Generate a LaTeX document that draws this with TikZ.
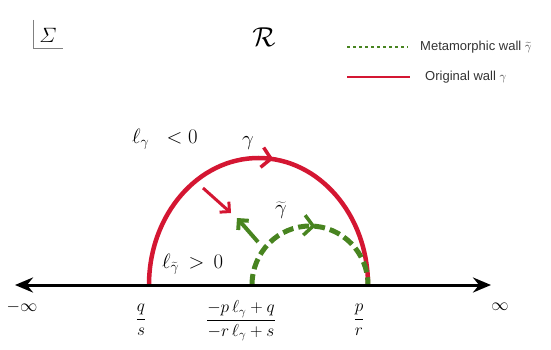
\documentclass[tikz,border=0pt]{standalone}
\usepackage{fontspec}
\newfontfamily\legendfont{Liberation Sans}
\usetikzlibrary{arrows.meta,decorations.markings}
\definecolor{wallred}{RGB}{212,22,50}
\definecolor{wallgreen}{RGB}{72,132,32}
\begin{document}
\begin{tikzpicture}[x=1pt,y=-1pt,
  redwall/.style={draw=wallred, line width=4.5pt},
  greenwall/.style={draw=wallgreen, line width=5pt, dash pattern=on 11pt off 5pt},
  axisline/.style={line width=3pt, {Stealth[length=18pt,width=15pt,inset=6pt]}-{Stealth[length=18pt,width=15pt,inset=6pt]}},
  lbl/.style={font=\LARGE, inner sep=0pt},
  biglbl/.style={font=\huge, inner sep=0pt},
  legendtxt/.style={text=black!80, inner sep=0pt, anchor=west}
]
\useasboundingbox (0,0) rectangle (551,350);

% Sigma corner and title
\coordinate (sigtop) at (33,20);
\coordinate (sigright) at (63,48);
\draw[gray, line width=0.8pt] (sigtop) |- (sigright);
\node[font=\huge, inner sep=0pt] (sig) at (48,35) {$\mathnormal{\Sigma}$};
\node[inner sep=0pt, scale=1.1] (title) at (264,37) {\Huge$\mathcal{R}$};

% legend
\coordinate (lg1) at (347,47);
\coordinate (lg2) at (408,47);
\draw[wallgreen, line width=2.2pt, dash pattern=on 2.5pt off 3.5pt] (lg1) -- (lg2);
\node[legendtxt] (lgt) at (420,47) {\legendfont\fontsize{13}{16}\selectfont Metamorphic wall $\widetilde{\gamma}$};
\coordinate (lr1) at (347,77);
\coordinate (lr2) at (410,77);
\draw[wallred, line width=2.5pt] (lr1) -- (lr2);
\node[legendtxt] (lrt) at (425,77) {\legendfont\fontsize{13}{16}\selectfont Original wall $\gamma$};

% walls
\coordinate (qs) at (149,285);
\coordinate (mid) at (252,285);
\coordinate (pr) at (368,285);
\draw[redwall, postaction={decorate}, decoration={markings,
   mark=at position 0.54 with {\arrow[wallred]{Straight Barb[length=9pt,width=20pt,line width=3.5pt]}}}]
  (qs) arc[start angle=180, end angle=360, x radius=109.5, y radius=127];
\draw[greenwall, postaction={decorate}, decoration={markings,
   mark=at position 0.53 with {\arrow[wallgreen,solid]{Straight Barb[length=9pt,width=20pt,line width=3.5pt]}}}]
  (mid) arc[start angle=180, end angle=360, x radius=58, y radius=59];

% short arrows
\coordinate (ra1) at (203,188);
\coordinate (ra2) at (231,213);
\draw[wallred, line width=3pt, -{Straight Barb[length=7pt,width=14pt]}] (ra1) -- (ra2);
\coordinate (ga1) at (258,242);
\coordinate (ga2) at (237,218);
\draw[wallgreen, line width=4pt, -{Straight Barb[length=7pt,width=14pt]}] (ga1) -- (ga2);

% axis
\coordinate (L) at (15,285);
\coordinate (R) at (491,285);
\draw[axisline] (L) -- (R);

% labels
\node[biglbl, anchor=base west] (lneg) at (132,143) {$\ell_\gamma\;\;<0$};
\node[biglbl, anchor=base west] (lpos) at (162,268) {$\ell_{\widetilde{\gamma}}\,>\,0$};
\node[biglbl] (glab) at (248,143) {$\gamma$};
\node[biglbl] (gtlab) at (281,210) {$\widetilde{\gamma}$};

\node[lbl] (minf) at (22,307) {$-\infty$};
\node[lbl] (pinf) at (500,307) {$\infty$};
\node[lbl] (qslab) at (141,320) {$\displaystyle\frac{q}{s}$};
\node[lbl] (frlab) at (241,321) {$\displaystyle\frac{-p\,\ell_\gamma + q}{-r\,\ell_\gamma + s}$};
\node[lbl] (prlab) at (359,320) {$\displaystyle\frac{p}{r}$};
\end{tikzpicture}
\end{document}
